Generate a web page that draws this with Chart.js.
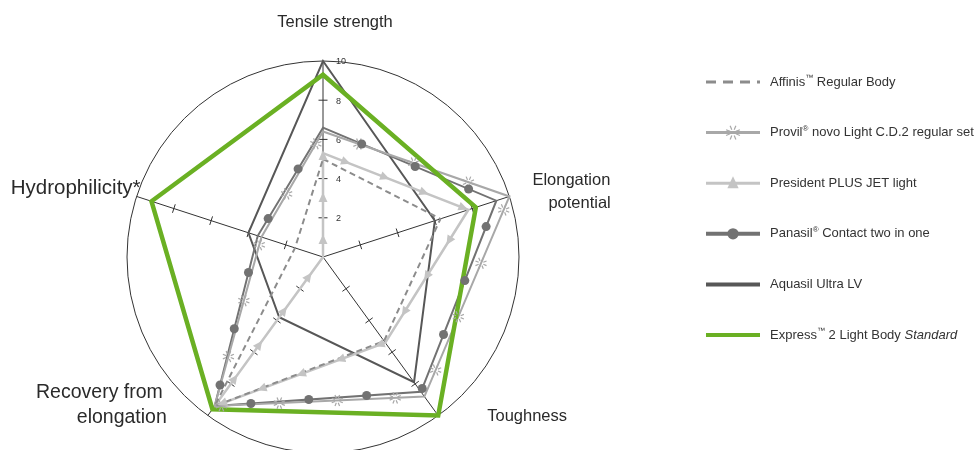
<!DOCTYPE html>
<html>
<head>
<meta charset="utf-8">
<script src="https://cdn.jsdelivr.net/npm/chart.js@4.4.1/dist/chart.umd.min.js"></script>
<style>
  html, body { margin: 0; padding: 0; background: #fff; overflow: hidden; }
  #wrap { position: absolute; left: 0; top: 0; width: 976px; height: 460px; }
</style>
</head>
<body>
<div id="wrap"><canvas id="radar"></canvas></div>
<script>
// Axis categories (clockwise from top)
const axisLabels = [['Tensile strength'], ['Elongation', 'potential'], ['Toughness'], ['Recovery from', 'elongation'], ['Hydrophilicity*']];
const tickValues = [2, 4, 6, 8, 10];

// Series values, same order as axisLabels
const affinis   = [5.0, 6.3, 5.3, 9.4, 1.5];
const provil    = [6.4, 10, 8.8, 9.4, 3.3];
const president = [5.3, 7.8, 5.4, 9.4, 0];
const panasil   = [6.6, 9.3, 8.5, 9.4, 3.5];
const aquasil   = [10, 6.0, 7.9, 3.8, 4.0];
const express   = [9.3, 8.2, 10, 9.6, 9.2];

const seriesNames = ['Affinis™ Regular Body', 'Provil® novo Light C.D.2 regular set', 'President PLUS JET light',
  'Panasil® Contact two in one', 'Aquasil Ultra LV', 'Express™ 2 Light Body'];
const seriesItalic = ['', '', '', '', '', 'Standard'];

const FONT = '"Liberation Sans", Arial, sans-serif';
const LEGEND_FONT = '"Liberation Sans Narrow", "Liberation Sans", Arial, sans-serif';

// styling for each series
const styles = [
  { color: '#8c8c8c', width: 2, dash: [6, 4], marker: null },
  { color: '#a8a8a8', width: 2, dash: [], marker: 'burst', spacing: 58, offset: 38 },
  { color: '#c4c4c4', width: 2.5, dash: [], marker: 'triangle', spacing: 42, offset: 24 },
  { color: '#727272', width: 2, dash: [], marker: 'circle', spacing: 58, offset: 42 },
  { color: '#575757', width: 2, dash: [], marker: null },
  { color: '#6ab023', width: 4.5, dash: [], marker: null }
];
const seriesData = [affinis, provil, president, panasil, aquasil, express];

function drawMarker(ctx, type, x, y, angle, color, scale) {
  const s = scale || 1;
  ctx.save();
  ctx.translate(x, y);
  ctx.fillStyle = color;
  ctx.strokeStyle = color;
  if (type === 'circle') {
    ctx.beginPath();
    ctx.arc(0, 0, 4.5 * s, 0, Math.PI * 2);
    ctx.fill();
  } else if (type === 'triangle') {
    ctx.rotate(angle);
    ctx.beginPath();
    ctx.moveTo(5.5 * s, 0);
    ctx.lineTo(-4 * s, -4.5 * s);
    ctx.lineTo(-4 * s, 4.5 * s);
    ctx.closePath();
    ctx.fill();
  } else if (type === 'burst') {
    ctx.lineWidth = 1.2;
    for (let k = 0; k < 8; k++) {
      const a = k * Math.PI / 4 + Math.PI / 8;
      ctx.beginPath();
      ctx.moveTo(Math.cos(a) * 2.5 * s, Math.sin(a) * 2.5 * s);
      ctx.lineTo(Math.cos(a) * 6 * s, Math.sin(a) * 6 * s);
      ctx.stroke();
    }
  }
  ctx.restore();
}

// markers spaced along the closed polygon of each dataset
function walkMarkers(pts, spacing, offset, cb) {
  let next = offset;
  let acc = 0;
  for (let i = 0; i < pts.length; i++) {
    const a = pts[i], b = pts[(i + 1) % pts.length];
    const len = Math.hypot(b.x - a.x, b.y - a.y);
    if (len < 0.5) continue;
    while (next <= acc + len) {
      const t = (next - acc) / len;
      cb(a.x + (b.x - a.x) * t, a.y + (b.y - a.y) * t, Math.atan2(b.y - a.y, b.x - a.x));
      next += spacing;
    }
    acc += len;
  }
}

const markerPlugin = {
  id: 'edgeMarkers',
  afterDatasetsDraw(chart) {
    const ctx = chart.ctx;
    chart.data.datasets.forEach((ds, i) => {
      const st = styles[i];
      if (!st.marker) return;
      const pts = chart.getDatasetMeta(i).data.map(p => ({ x: p.x, y: p.y }));
      walkMarkers(pts, st.spacing, st.offset, (x, y, a) => drawMarker(ctx, st.marker, x, y, a, st.color));
    });
  }
};

// axis ticks, tick labels, axis titles
const axisPlugin = {
  id: 'axisDecor',
  beforeDatasetsDraw(chart) {
    const ctx = chart.ctx;
    const r = chart.scales.r;
    ctx.save();
    ctx.strokeStyle = '#333';
    ctx.lineWidth = 1;
    for (let i = 0; i < axisLabels.length; i++) {
      const ang = r.getIndexAngle(i) - Math.PI / 2;
      const px = -Math.sin(ang), py = Math.cos(ang);
      tickValues.slice(0, -1).forEach(v => {
        const p = r.getPointPosition(i, r.getDistanceFromCenterForValue(v));
        ctx.beginPath();
        ctx.moveTo(p.x - px * 4.5, p.y - py * 4.5);
        ctx.lineTo(p.x + px * 4.5, p.y + py * 4.5);
        ctx.stroke();
      });
    }
    ctx.fillStyle = '#333';
    ctx.font = '9px ' + FONT;
    ctx.textAlign = 'left';
    ctx.textBaseline = 'middle';
    tickValues.forEach(v => {
      const p = r.getPointPosition(0, r.getDistanceFromCenterForValue(v));
      ctx.fillText(String(v), p.x + 13, p.y + 1);
    });
    ctx.restore();
  },
  afterDraw(chart) {
    const ctx = chart.ctx;
    const r = chart.scales.r;
    // offsets of each title from the end of its spoke
    const place = [
      [{ dx: 12, dy: -39, align: 'center', size: 16.5 }],
      [{ dx: 23, dy: -16, align: 'left', size: 16.5 }, { dx: 39, dy: 7, align: 'left', size: 16.5 }],
      [{ dx: 49, dy: 1, align: 'left', size: 16.5 }],
      [{ dx: -45, dy: -23, align: 'right', size: 19.5 }, { dx: -41, dy: 2, align: 'right', size: 19.5 }],
      [{ dx: 4, dy: -8, align: 'right', size: 20.5 }]
    ];
    ctx.save();
    ctx.fillStyle = '#2a2a2a';
    ctx.textBaseline = 'middle';
    axisLabels.forEach((lines, i) => {
      const end = r.getPointPosition(i, r.drawingArea);
      lines.forEach((txt, k) => {
        const pl = place[i][k];
        ctx.font = pl.size + 'px ' + FONT;
        ctx.textAlign = pl.align;
        ctx.fillText(txt, end.x + pl.dx, end.y + pl.dy);
      });
    });
    ctx.restore();

    // legend
    const x0 = 706, x1 = 760, tx = 770, y0 = 82, step = 50.6;
    ctx.save();
    seriesNames.forEach((name, i) => {
      const st = styles[i];
      const y = y0 + i * step;
      ctx.strokeStyle = st.color;
      ctx.lineWidth = (i >= 3) ? 4 : 3;
      ctx.setLineDash(i === 0 ? [10, 7] : []);
      ctx.beginPath();
      ctx.moveTo(x0, y);
      ctx.lineTo(x1, y);
      ctx.stroke();
      ctx.setLineDash([]);
      if (st.marker) drawMarker(ctx, st.marker, (x0 + x1) / 2, y, st.marker === 'triangle' ? -Math.PI / 2 : 0, st.color, 1.25);
      // text with small raised ® / ™
      ctx.fillStyle = '#333';
      ctx.textAlign = 'left';
      ctx.textBaseline = 'middle';
      let x = tx;
      for (const ch of name.split(/([®™])/)) {
        if (!ch) continue;
        if (ch === '®' || ch === '™') {
          ctx.font = '8px ' + LEGEND_FONT;
          ctx.fillText(ch, x, y - 4);
        } else {
          ctx.font = '13px ' + LEGEND_FONT;
          ctx.fillText(ch, x, y);
        }
        x += ctx.measureText(ch).width;
      }
      if (seriesItalic[i]) {
        ctx.font = 'italic 13px ' + LEGEND_FONT;
        x += ctx.measureText(' ').width;
        ctx.fillText(seriesItalic[i], x, y);
      }
    });
    ctx.restore();
  }
};

const datasets = seriesData.map((vals, i) => ({
  label: seriesNames[i],
  data: vals,
  borderColor: styles[i].color,
  borderWidth: styles[i].width,
  borderDash: styles[i].dash,
  borderJoinStyle: 'miter',
  backgroundColor: 'transparent',
  fill: false,
  pointRadius: 0,
  pointHoverRadius: 0,
  tension: 0,
  clip: false,
  order: i === 5 ? -1 : i
}));

new Chart(document.getElementById('radar'), {
  type: 'radar',
  data: { labels: axisLabels.map(l => l.join(' ')), datasets: datasets },
  options: {
    responsive: true,
    maintainAspectRatio: false,
    animation: false,
    layout: { padding: { left: 127, right: 457, top: 61, bottom: 7 } },
    scales: {
      r: {
        min: 0,
        max: 10,
        ticks: { display: false, stepSize: 2 },
        grid: { circular: true, color: (c) => (c.tick && c.tick.value === 10 ? '#333' : 'transparent'), lineWidth: 1 },
        angleLines: { color: '#333', lineWidth: 1 },
        pointLabels: { display: false }
      }
    },
    plugins: { legend: { display: false }, tooltip: { enabled: false } }
  },
  plugins: [axisPlugin, markerPlugin]
});
</script>
</body>
</html>
